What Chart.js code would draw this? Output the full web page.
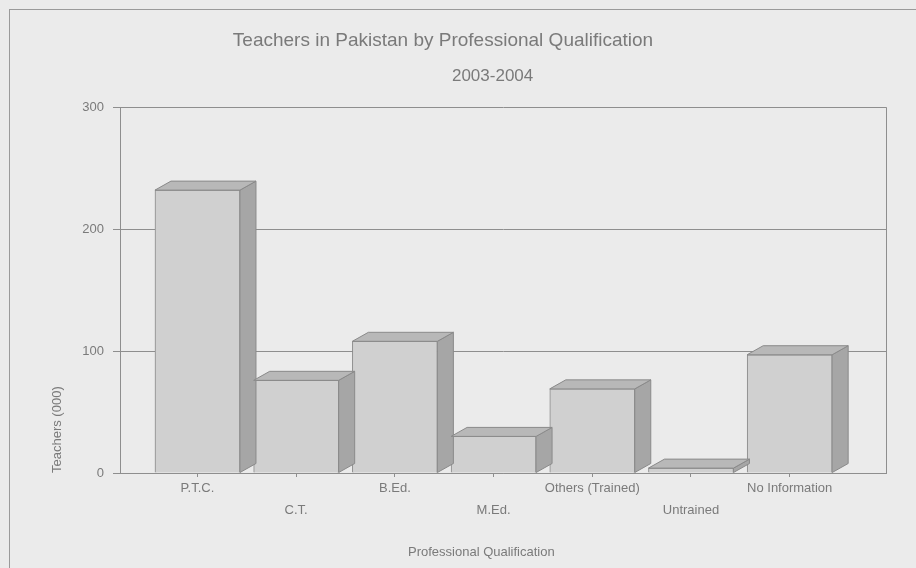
<!DOCTYPE html>
<html lang="en">
<head>
<meta charset="UTF-8">
<title>Teachers in Pakistan</title>
<script src="https://cdn.jsdelivr.net/npm/chart.js@4.4.1/dist/chart.umd.min.js"></script>
<style>
	html, body { margin: 0; padding: 0; background: #ececec; }
	#wrap { width: 916px; height: 568px; }
</style>
</head>
<body>
<div id="wrap"><canvas id="chart" width="916" height="568"></canvas></div>
<script>
	// values (thousands of teachers)
	const categories = ['P.T.C.', 'C.T.', 'B.Ed.', 'M.Ed.', 'Others (Trained)', 'Untrained', 'No Information'];
	const teachers = [232, 76, 108, 30, 69, 4, 97];
	const yTicks = [0, 100, 200, 300];

	const textColor = '#7a7a7a';
	const lineColor = '#8e8e8e';
	const depthX = 16, depthY = 9;

	// page frame + paper background
	const paper = {
		id: 'paper',
		beforeDraw(chart) {
			const ctx = chart.ctx;
			ctx.save();
			ctx.fillStyle = '#ebebeb';
			ctx.fillRect(0, 0, chart.width, chart.height);
			ctx.strokeStyle = '#9a9a9a';
			ctx.lineWidth = 1;
			ctx.strokeRect(9.5, 9.5, chart.width, chart.height);
			ctx.restore();
		},
		afterDraw(chart) {
			const a = chart.chartArea, ctx = chart.ctx;
			ctx.save();
			ctx.strokeStyle = lineColor;
			ctx.lineWidth = 1;
			ctx.beginPath();
			ctx.moveTo(Math.round(a.right) + 0.5, a.top);
			ctx.lineTo(Math.round(a.right) + 0.5, a.bottom);
			ctx.stroke();
			ctx.restore();
		}
	};

	// top and side faces for the 3d look
	const bars3d = {
		id: 'bars3d',
		afterDatasetsDraw(chart) {
			const ctx = chart.ctx;
			chart.getDatasetMeta(0).data.forEach(bar => {
				const l = bar.x - bar.width / 2, r = bar.x + bar.width / 2;
				const t = bar.y, b = bar.base;
				ctx.save();
				ctx.lineWidth = 1;
				ctx.strokeStyle = '#8a8a8a';
				ctx.fillStyle = '#a6a6a6';
				ctx.beginPath();
				ctx.moveTo(r, t);
				ctx.lineTo(r + depthX, t - depthY);
				ctx.lineTo(r + depthX, b - depthY);
				ctx.lineTo(r, b);
				ctx.closePath();
				ctx.fill();
				ctx.stroke();
				ctx.fillStyle = '#b8b8b8';
				ctx.beginPath();
				ctx.moveTo(l, t);
				ctx.lineTo(l + depthX, t - depthY);
				ctx.lineTo(r + depthX, t - depthY);
				ctx.lineTo(r, t);
				ctx.closePath();
				ctx.fill();
				ctx.stroke();
				ctx.restore();
			});
		}
	};

	const ctx = document.getElementById('chart').getContext('2d');
	new Chart(ctx, {
		type: 'bar',
		data: {
			datasets: [{
				data: teachers.map((v, i) => ({ x: i, y: v })),
				backgroundColor: '#d0d0d0',
				borderColor: '#8a8a8a',
				borderWidth: 1,
				barThickness: 85
			}]
		},
		options: {
			responsive: false,
			animation: false,
			layout: { padding: { left: 0, right: 30, top: 0, bottom: 0 } },
			plugins: {
				legend: { display: false },
				tooltip: { enabled: false },
				title: {
					display: true,
					text: 'Teachers in Pakistan by Professional Qualification',
					color: textColor,
					font: { family: 'Liberation Sans', size: 19, weight: 'normal' },
					padding: { top: 29, bottom: 0 }
				},
				subtitle: {
					display: true,
					text: '                     2003-2004',
					color: textColor,
					font: { family: 'Liberation Sans', size: 17, weight: 'normal' },
					padding: { top: 14, bottom: 21 }
				}
			},
			scales: {
				x: {
					type: 'linear',
					offset: false,
					min: -0.785,
					max: 6.976,
					afterBuildTicks: s => { s.ticks = categories.map((c, i) => ({ value: i })); },
					afterFit: s => { s.height = 95; },
					grid: { offset: false, drawOnChartArea: false, tickLength: 4, color: lineColor },
					border: { color: lineColor },
					ticks: {
						color: textColor,
						padding: 0,
						maxRotation: 0,
						autoSkip: false,
						font: { family: 'Liberation Sans', size: 13, lineHeight: 1.7 },
						callback: v => (v % 2 === 0 ? categories[v] : ['', categories[v]])
					},
					title: {
						display: true,
						text: 'Professional Qualification            ',
						color: textColor,
						font: { family: 'Liberation Sans', size: 13 },
						padding: { top: 0, bottom: 8 }
					}
				},
				y: {
					min: 0,
					max: 300,
					afterBuildTicks: s => { s.ticks = yTicks.map(v => ({ value: v })); },
					afterFit: s => { s.width = 120; },
					grid: { color: lineColor, tickLength: 7 },
					border: { color: lineColor },
					ticks: {
						color: textColor,
						padding: 9,
						font: { family: 'Liberation Sans', size: 13 }
					},
					title: {
						display: true,
						text: 'Teachers (000)',
						align: 'start',
						color: textColor,
						font: { family: 'Liberation Sans', size: 13 },
						padding: { top: 50, bottom: 0 }
					}
				}
			}
		},
		plugins: [paper, bars3d]
	});
</script>
</body>
</html>
